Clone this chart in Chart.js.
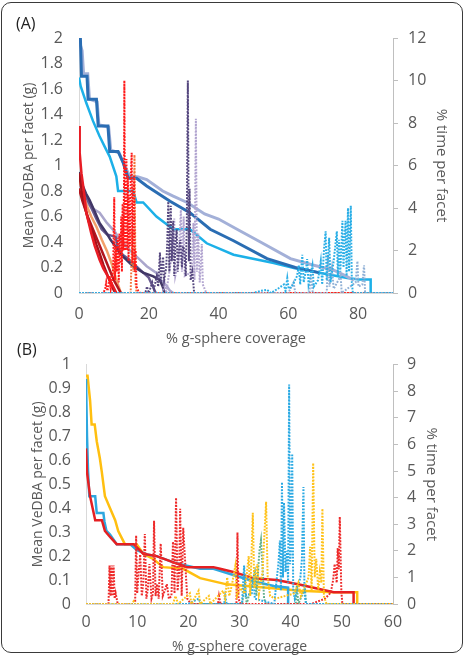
<!DOCTYPE html>
<html>
<head>
<meta charset="utf-8">
<script src="https://cdn.jsdelivr.net/npm/chart.js@4.4.1/dist/chart.umd.min.js"></script>
<style>
  html, body { margin: 0; padding: 0; background: #fff; }
  #wrap { position: relative; width: 465px; height: 655px; overflow: hidden; }
  #frame { position: absolute; left: 1px; top: 2px; width: 460px; height: 649px; border: 1.5px solid #3a3a3a; border-radius: 10px; }
  canvas { position: absolute; left: 0; }
  .tag { position: absolute; font-family: "Open Sans", sans-serif; font-size: 16px; color: #222; }
</style>
</head>
<body>
<div id="wrap">
  <div id="frame"></div>
  <canvas id="chartA" width="465" height="352" style="top:0"></canvas>
  <canvas id="chartB" width="465" height="315" style="top:340px"></canvas>
  <div class="tag" style="left:16px;top:12px">(A)</div>
  <div class="tag" style="left:17px;top:338px">(B)</div>
</div>
<script>
// === 面板 A：刻度 ===
const aXTicks = [0, 20, 40, 60, 80];
const aLeftTicks = [0, 0.2, 0.4, 0.6, 0.8, 1, 1.2, 1.4, 1.6, 1.8, 2];
const aRightTicks = [0, 2, 4, 6, 8, 10, 12];

// === 面板 A：Mean VeDBA (實線, 左軸) ===
const aDarkBlue = [[0,2.0],[0.4,2.0],[0.7,1.70],[2.3,1.70],[2.6,1.52],[5.0,1.52],[5.5,1.31],[8.3,1.31],[8.8,1.11],[11.2,1.11],[12.7,1.02],[14.1,0.90],[16.5,0.90],[19.4,0.84],[26.1,0.72],[31.8,0.63],[37.6,0.50],[44.3,0.41],[53.9,0.27],[62,0.20],[68.8,0.16]];
const aLavender = [[0,1.98],[0.9,1.90],[1.3,1.72],[2.5,1.72],[3,1.52],[5.2,1.50],[5.7,1.32],[8.5,1.30],[9.1,1.12],[11.5,1.10],[13,1.0],[14.5,0.92],[17,0.91],[19.4,0.89],[24,0.80],[27,0.76],[31,0.71],[36,0.62],[40,0.58],[45.3,0.50],[52,0.40],[60.6,0.27],[67,0.22],[73,0.18],[76,0.14],[78.8,0.10]];
const aCyan = [[0,1.69],[0.5,1.62],[2.1,1.49],[4,1.35],[5.9,1.23],[7.5,1.14],[8.8,1.07],[10.7,0.915],[11.2,0.80],[15.5,0.80],[16.5,0.71],[18.4,0.71],[22.2,0.60],[27,0.50],[31.8,0.50],[36.6,0.39],[44.3,0.30],[55.8,0.235],[61.6,0.196],[69.3,0.157],[76.9,0.118],[80.3,0.105],[83.6,0.105],[83.6,0]];
const aRed = [[0,1.31],[0.2,1.1],[0.7,0.94],[1.5,0.78],[2.1,0.63],[3.5,0.47],[4.5,0.37],[5.9,0.26],[7,0.19],[8.3,0.13],[9.8,0.05],[10.7,0]];
const aDarkRed1 = [[0,0.94],[0.8,0.80],[1.6,0.68],[2.8,0.56],[4,0.47],[5,0.38],[5.9,0.31],[7,0.22],[7.9,0.157],[9,0.08],[10,0.02],[10.5,0]];
const aDarkRed2 = [[0,0.82],[1,0.72],[2.5,0.60],[4,0.50],[5.5,0.40],[7,0.30],[8.5,0.20],[10,0.10],[11.2,0.04],[12,0]];
const aOrange = [[0,0.89],[1,0.80],[2,0.70],[3.5,0.60],[5,0.52],[6.5,0.42],[8,0.33],[9.5,0.22],[10.5,0.12],[11.5,0.04],[12,0]];
const aPurple = [[0,0.95],[0.5,0.88],[1.1,0.84],[2,0.78],[3,0.73],[4.5,0.64],[5.9,0.55],[7.9,0.47],[9,0.42],[10.3,0.37],[12,0.30],[13.6,0.26],[15.5,0.21],[18.4,0.16],[21.3,0.13],[23.2,0.10],[24,0.05],[24.5,0]];
const aSlate = [[0,0.90],[1.5,0.78],[3,0.70],[5,0.58],[6.5,0.50],[8,0.46],[10.5,0.44],[11.2,0.35],[12.5,0.30],[14,0.27],[16,0.22],[18,0.17],[20,0.12],[21,0.06],[22,0]];
const aGreyLilac = [[0,0.86],[1,0.80],[2,0.72],[3.5,0.67],[5.9,0.63],[8,0.55],[10.3,0.48],[11.2,0.44],[13,0.38],[15.5,0.31],[17.5,0.26],[19.4,0.21],[22.2,0.157],[23.5,0.10],[25,0.06],[26,0.02],[27,0]];

// === 面板 A：% time (虛線, 右軸) ===
const aRedTime = [[0,0],[7,0],[7.5,0.2],[7.8,0.5],[8.1,0.1],[8.5,0.3],[8.8,0.8],[9.1,0.2],[9.4,0.5],[9.8,1.2],[10.1,4.5],[10.3,0.6],[10.6,2.2],[10.8,1.0],[11.1,2.6],[11.4,0.5],[11.6,2.8],[11.9,1.4],[12.1,3.6],[12.3,1.0],[12.5,4.2],[12.7,2.0],[12.9,5.0],[13.0,10.0],[13.2,2.0],[13.4,5.8],[13.6,6.3],[13.8,2.0],[14.0,5.5],[14.2,1.5],[14.4,4.6],[14.6,2.2],[14.8,5.2],[15.1,6.6],[15.3,1.4],[15.5,4.8],[15.8,5.5],[16.0,1.0],[16.2,2.0],[16.5,0.3],[17,0.1],[17.5,0],[90,0]];
const aOrangeTime = [[0,0],[14.8,0],[15.3,3.0],[15.6,1.0],[15.9,6.5],[16.2,0.5],[16.5,0],[90,0]];
const aPurpleTime = [[0,0],[19,0],[19.5,0.3],[20,0],[21,0.5],[21.5,0.2],[22.3,0.8],[22.7,0.3],[23.2,1.9],[23.5,0.5],[23.8,1.2],[24.1,1.7],[24.4,0.6],[25,1.2],[25.3,2.4],[25.6,4.3],[25.9,1.0],[26.1,2.8],[26.3,4.1],[26.6,1.5],[26.8,2.6],[27.0,3.4],[27.3,0.8],[27.6,2.2],[28.0,3.0],[28.3,1.0],[28.6,1.8],[29.0,2.5],[29.5,1.2],[29.8,2.2],[30.2,2.0],[30.6,0.8],[30.9,3.2],[31.2,10.0],[31.5,1.5],[31.7,4.9],[32.0,0.6],[32.5,1.0],[33,0],[90,0]];
const aLavenderTime = [[0,0],[24,0],[24.5,0.5],[25,0],[26.8,2.0],[27.3,3.5],[27.6,0.8],[28.5,1.5],[29.2,3.9],[29.5,1.0],[30.0,3.6],[30.3,0.8],[32.4,1.0],[32.8,3.3],[33.1,0.6],[33.5,8.2],[33.8,1.0],[34.2,2.8],[34.6,0.5],[35.2,2.3],[35.5,0.4],[36,0.2],[36.5,0],[90,0]];
const aCyanTime = [[0,0],[50,0],[52,0.1],[53.9,0.15],[55,0],[57,0.2],[58.7,0.4],[59.2,0.1],[59.7,0.7],[60.1,0.2],[61,0.3],[62.5,0.8],[63.0,1.3],[63.4,0.4],[64.0,1.8],[64.4,0.5],[65.0,1.0],[65.4,1.6],[65.8,0.4],[66.9,1.3],[67.3,0.3],[68.5,0.6],[69.3,1.5],[69.7,0.4],[70.2,2.0],[70.7,2.9],[71.0,0.6],[71.7,2.6],[72.1,0.5],[73.0,1.5],[73.9,2.9],[74.2,0.8],[74.5,2.5],[74.9,1.0],[75.5,3.4],[75.8,1.2],[76.4,3.4],[76.7,0.8],[77.1,4.0],[77.4,1.0],[77.9,4.1],[78.2,0.5],[78.5,0],[90,0]];
const aSteelTime = [[0,0],[60,0],[61.5,0.5],[62,0],[66,0],[66.5,0.9],[67,0],[71,0],[71.4,1.8],[71.8,0.3],[72.5,1.2],[73,0.2],[75,0.8],[75.3,0],[79.3,0.5],[79.8,1.5],[80.1,0.3],[81.2,0.4],[81.7,1.3],[82,0],[90,0]];

// === 面板 B：刻度 ===
const bXTicks = [0, 10, 20, 30, 40, 50, 60];
const bLeftTicks = [0, 0.1, 0.2, 0.3, 0.4, 0.5, 0.6, 0.7, 0.8, 0.9, 1];
const bRightTicks = [0, 1, 2, 3, 4, 5, 6, 7, 8, 9];

// === 面板 B：Mean VeDBA (實線, 左軸) ===
const bYellow = [[0,0.953],[0.3,0.953],[0.8,0.85],[1.1,0.75],[1.7,0.75],[2.1,0.68],[2.7,0.61],[3.1,0.55],[3.7,0.45],[4.7,0.40],[5.7,0.35],[6.3,0.305],[7.6,0.25],[9.9,0.25],[11.2,0.21],[13.2,0.187],[15.1,0.154],[19,0.147],[22.3,0.108],[27.5,0.082],[35.4,0.068],[41.9,0.055],[48.4,0.049],[53,0.049],[53,0]];
const bBlue = [[0,0.94],[0.2,0.70],[0.4,0.555],[0.65,0.45],[1.8,0.45],[2.1,0.38],[3.4,0.38],[3.6,0.345],[4,0.305],[4.7,0.29],[6,0.25],[8.6,0.25],[9.9,0.226],[11.9,0.207],[13.8,0.20],[17.1,0.174],[19.7,0.16],[22.3,0.147],[24.9,0.147],[28.8,0.121],[32.7,0.095],[36.7,0.075],[39.5,0.068],[39.5,0]];
const bRed = [[0,0.65],[0.2,0.55],[0.8,0.45],[1.3,0.40],[1.8,0.35],[3.1,0.35],[3.7,0.305],[4.7,0.28],[6,0.25],[9.3,0.25],[11.2,0.21],[13.8,0.20],[17.1,0.174],[19.7,0.154],[24.9,0.154],[26.2,0.147],[28.8,0.134],[32.7,0.108],[37.3,0.10],[41.9,0.08],[48.4,0.049],[52.3,0.049],[52.3,0]];

// === 面板 B：% time (虛線, 右軸) ===
const bRedTime = [[0,0],[4.4,0],[4.6,1.45],[4.8,0.3],[5.0,1.45],[5.2,0.3],[5.4,1.45],[5.6,0.2],[5.8,0.4],[6.2,0],[9.6,0],[9.8,2.57],[10.0,0.4],[10.3,1.2],[10.6,1.86],[10.9,0.3],[11.2,0.8],[11.5,2.63],[11.8,0.2],[12.1,0.6],[12.4,1.5],[12.8,0.2],[13.1,0.4],[13.3,3.13],[13.6,0.3],[13.9,0.75],[14.2,0.2],[14.6,2.27],[15.0,0.3],[15.4,0.5],[15.8,0.75],[16.2,0.2],[16.7,0.3],[17.0,2.34],[17.3,0.4],[17.6,3.99],[17.9,0.5],[18.2,1.2],[18.4,3.58],[18.7,0.3],[19.0,2.87],[19.4,1.5],[19.8,0.2],[20.5,0],[25.8,0],[26,0.3],[26.3,0],[29.4,0],[29.6,2.69],[29.8,0.2],[30.2,0],[44,0],[46.7,0.2],[47.2,0.3],[47.7,0.4],[48.0,0.6],[48.3,0.9],[48.6,1.5],[49.0,0.8],[49.2,2.1],[49.4,1.3],[49.6,3.28],[49.9,0.5],[50.1,0],[60,0]];
const bBlueTime = [[0,0],[20,0],[22,0.2],[22.5,0],[27,0],[27.2,0.3],[27.5,0],[30.5,0],[30.9,1.45],[31.2,0.3],[32.4,0.4],[32.7,1.0],[33,0.2],[36.8,0],[37.2,0.8],[37.6,1.5],[37.9,2.39],[38.1,0.5],[38.3,4.58],[38.5,1.0],[38.7,3.81],[39.0,1.2],[39.3,2.0],[39.5,0.8],[39.7,8.25],[39.9,1.5],[40.1,2.2],[40.3,5.65],[40.5,0.5],[40.8,0.2],[41.9,1.0],[42.2,1.68],[42.5,4.4],[42.7,0.4],[43,0],[60,0]];
const bYellowTime = [[0,0],[9,0],[9.3,0.1],[9.6,0],[17,0],[17.5,0.3],[18,0],[20.3,0.4],[20.6,0],[22,0.5],[22.3,0],[24,0.3],[24.3,0],[26.8,0.5],[27.2,0.2],[27.6,1.0],[28,0.3],[28.5,0.7],[29.2,1.45],[29.5,0.3],[30.2,0.6],[31.0,0.4],[31.8,1.8],[32.1,0.3],[32.6,3.43],[32.9,0.6],[33.5,1.5],[33.8,0.4],[34.5,1.2],[34.9,2.75],[35.2,3.84],[35.5,1.0],[36,0.3],[37,0.2],[40.8,0.4],[41.5,0.8],[42,0.3],[43.5,1.0],[43.8,2.15],[44.1,0.5],[44.4,5.3],[44.7,1.0],[45,1.7],[45.4,0.5],[45.7,1.2],[46,0.8],[46.2,3.58],[46.5,0.3],[47,0],[60,0]];
const bGreenTime = [[0,0],[30.5,0],[31.1,0.8],[31.4,0],[33.0,1.2],[33.3,0.3],[33.9,2.0],[34.2,2.4],[34.5,1.4],[34.8,0.2],[35.2,0],[41,0],[41.2,0.7],[41.5,0],[42.8,0.6],[43,0],[60,0]];

// === 共用設定 ===
const FONT = "'Open Sans', 'DejaVu Sans', sans-serif";
const GREY = "#595959";
const toXY = arr => arr.map(p => ({ x: p[0], y: p[1] }));

function solid(data, color, width) {
  return { data: toXY(data), yAxisID: "y", borderColor: color, borderWidth: width || 2.5, pointRadius: 0, order: 1 };
}
function dotted(data, color) {
  return { data: toXY(data), yAxisID: "y1", borderColor: color, borderWidth: 2, borderDash: [1.8, 1.4], pointRadius: 0, order: 0 };
}

function makeChart(id, p) {
  const fix = (w) => (s) => { if (s.isHorizontal()) s.height = w; else s.width = w; };
  const setTicks = (arr) => (s) => { s.ticks = arr.map(v => ({ value: v })); };
  return new Chart(document.getElementById(id), {
    type: "line",
    data: { datasets: p.datasets },
    options: {
      responsive: false,
      animation: false,
      events: [],
      layout: { padding: { top: p.top, left: 0, right: 0, bottom: 0 } },
      elements: { line: { tension: 0 } },
      plugins: { legend: { display: false }, tooltip: { enabled: false } },
      scales: {
        x: {
          type: "linear", min: 0, max: p.xMax,
          afterBuildTicks: setTicks(p.xTicks), afterFit: fix(p.xH),
          grid: { display: false, drawTicks: false },
          border: { display: true, color: "#d9d9d9", width: 1 },
          ticks: { padding: p.xPad, color: GREY, font: { family: FONT, size: 16 } },
          title: { display: true, text: "% g-sphere coverage", color: GREY, font: { family: FONT, size: p.xTitleSize }, padding: { top: 0, bottom: p.xTitlePad } },
        },
        y: {
          position: "left", min: 0, max: p.yMax,
          afterBuildTicks: setTicks(p.yTicks), afterFit: fix(p.yW),
          grid: { display: false, drawTicks: false },
          border: { display: true, color: "#d9d9d9", width: 1 },
          ticks: { padding: p.yPad, color: GREY, font: { family: FONT, size: 16 }, callback: v => String(+v.toFixed(1)) },
          title: { display: true, text: "Mean VeDBA per facet (g)", color: GREY, font: { family: FONT, size: 14 }, padding: { top: p.yTitlePad, bottom: 0 } },
        },
        y1: {
          position: "right", min: 0, max: p.y1Max,
          afterBuildTicks: setTicks(p.y1Ticks), afterFit: fix(p.y1W),
          grid: { display: true, drawOnChartArea: false, drawTicks: true, tickLength: 5, color: "#bfbfbf" },
          border: { display: true, color: "#bfbfbf", width: 1 },
          ticks: { padding: p.y1Pad, color: GREY, font: { family: FONT, size: 16 } },
          title: { display: true, text: "% time per facet", color: GREY, font: { family: FONT, size: 15 }, padding: { top: p.y1TitlePad, bottom: 0 } },
        },
      },
    },
  });
}

// === 面板 A ===
makeChart("chartA", {
  top: 38, xMax: 90, yMax: 2, y1Max: 12,
  xTicks: aXTicks, yTicks: aLeftTicks, y1Ticks: aRightTicks,
  xH: 59, yW: 79, y1W: 72,
  xPad: 12, yPad: 16, y1Pad: 10,
  xTitleSize: 14.5, xTitlePad: 4, yTitlePad: 21, y1TitlePad: 15,
  datasets: [
    dotted(aCyanTime, "#2aaee6"),
    dotted(aSteelTime, "#8fb0d6"),
    dotted(aRedTime, "#ff1a1a"),
    dotted(aOrangeTime, "#f4733a"),
    dotted(aPurpleTime, "#54467e"),
    dotted(aLavenderTime, "#b2a5d0"),
    solid(aDarkBlue, "#2a6db3", 3),
    solid(aLavender, "#a3b0d8", 3),
    solid(aCyan, "#1cb0e8", 2.5),
    solid(aRed, "#e81c24", 2.5),
    solid(aDarkRed1, "#a5121a", 2.5),
    solid(aDarkRed2, "#b3161e", 2.5),
    solid(aOrange, "#f2a06a", 2.5),
    solid(aPurple, "#413766", 2.5),
    solid(aSlate, "#67598e", 2.5),
    solid(aGreyLilac, "#aaa6cc", 2.5),
  ],
});

// === 面板 B ===
makeChart("chartB", {
  top: 11, xMax: 60, yMax: 1, y1Max: 9,
  xTicks: bXTicks, yTicks: bLeftTicks, y1Ticks: bRightTicks,
  xH: 51, yW: 86, y1W: 72,
  xPad: 9, yPad: 15, y1Pad: 9,
  xTitleSize: 14, xTitlePad: 0, yTitlePad: 30, y1TitlePad: 25,
  datasets: [
    dotted(bYellowTime, "#ffc21a"),
    dotted(bBlueTime, "#2aa9e3"),
    dotted(bRedTime, "#ee2a2a"),
    dotted(bGreenTime, "#62b08c"),
    solid(bRed, "#e51f22", 2.5),
    solid(bBlue, "#2ea7df", 2.5),
    solid(bYellow, "#ffbf10", 2.5),
  ],
});
</script>
</body>
</html>
